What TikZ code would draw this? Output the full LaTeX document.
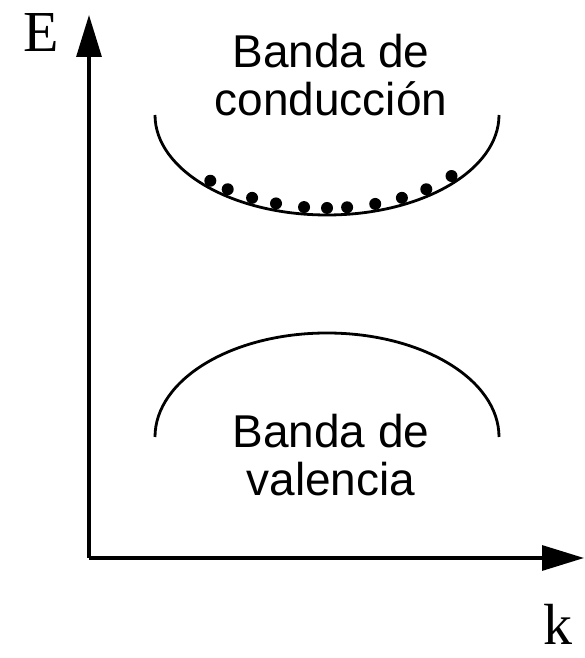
\documentclass[tikz,border=0pt]{standalone}
\usepackage{fontspec}
\setmainfont{Liberation Serif}
\setsansfont{Liberation Sans}
\usetikzlibrary{arrows.meta,calc}

\begin{document}
\begin{tikzpicture}[x=1pt,y=1pt,
  axis/.style={line width=3.2pt,-{Triangle[length=42pt,width=25pt]}},
  axislabel/.style={font=\fontsize{58}{58}\selectfont,anchor=base,inner sep=0pt},
  band/.style={line width=2.8pt},
  bandlabel/.style={font=\sffamily\fontsize{46}{48}\selectfont,align=center,anchor=base}]
\useasboundingbox (0,0) rectangle (585,658);
% axes
\coordinate (O) at (89,100);
\coordinate (Etip) at (89,643);
\coordinate (ktip) at (584,100);
\draw[axis] (O) -- (Etip);
\draw[axis] (O) -- (ktip);
\node[axislabel] (E) at (41,606) {E};
\node[axislabel] (k) at (558,13) {k};
% conduction band
\coordinate (cb) at (327,543);
\draw[band] (cb) ++(-172,0) arc[start angle=180,end angle=360,x radius=172,y radius=100];
\foreach \a in {225,233,243,252,262,270,277,287,297,307,319}
  \fill ($(cb)+(\a:165 and 93)$) circle (6);
\node[bandlabel] (cbl) at (331,542) {Banda de\\conducción};
% valence band
\coordinate (vb) at (327,221);
\draw[band] (vb) ++(-172,0) arc[start angle=180,end angle=0,x radius=172,y radius=104];
\node[bandlabel] (vbl) at (331,162) {Banda de\\valencia};
\end{tikzpicture}
\end{document}
